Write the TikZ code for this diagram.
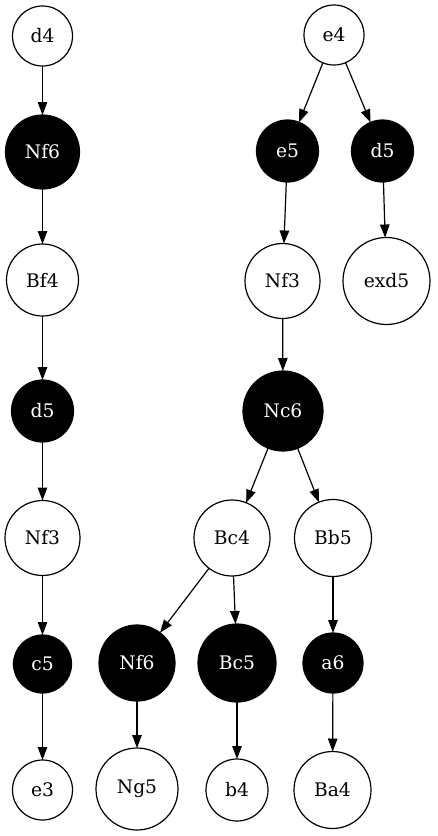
\documentclass[tikz,border=0pt]{standalone}
\usepackage{fontspec}
\setmainfont{DejaVu Serif}
\usetikzlibrary{arrows.meta}
\begin{document}
\begin{tikzpicture}[x=1pt,y=-1pt,
  wn/.style={circle,draw=black,line width=1.2pt,fill=white,inner sep=0pt,outer sep=0pt,font=\fontsize{18.67}{20}\selectfont},
  bn/.style={wn,fill=black,text=white},
  edge/.style={-{Triangle[length=13pt,width=9.5pt]},line width=1.2pt}]
\useasboundingbox (0,0) rectangle (437,836);
% left chain
\node[wn,minimum size=60pt] (d4) at (42.5,36) {d4};
\node[bn,minimum size=74pt] (Nf6L) at (42.5,152) {Nf6};
\node[wn,minimum size=72pt] (Bf4) at (42.5,280) {Bf4};
\node[bn,minimum size=62pt] (d5L) at (42.5,411) {d5};
\node[wn,minimum size=75pt] (Nf3L) at (42.5,538) {Nf3};
\node[bn,minimum size=58pt] (c5) at (42.5,664) {c5};
\node[wn,minimum size=60pt] (e3) at (42.5,790) {e3};
% right tree
\node[wn,minimum size=60pt] (e4) at (334,35) {e4};
\node[bn,minimum size=62pt] (e5) at (287.5,151) {e5};
\node[bn,minimum size=62pt] (d5R) at (382.5,151) {d5};
\node[wn,minimum size=75pt] (Nf3R) at (282.5,281) {Nf3};
\node[wn,minimum size=87pt] (exd5) at (386.5,281) {exd5};
\node[bn,minimum size=80pt] (Nc6) at (283,411) {Nc6};
\node[wn,minimum size=76pt] (Bc4) at (232,538) {Bc4};
\node[wn,minimum size=77pt] (Bb5) at (333,538) {Bb5};
\node[bn,minimum size=76pt] (Nf6R) at (137,663) {Nf6};
\node[bn,minimum size=78pt] (Bc5) at (237,663) {Bc5};
\node[bn,minimum size=60pt] (a6) at (333,663) {a6};
\node[wn,minimum size=82pt] (Ng5) at (137,789) {Ng5};
\node[wn,minimum size=62pt] (b4) at (237,790) {b4};
\node[wn,minimum size=77pt] (Ba4) at (332.5,790) {Ba4};
% edges
\draw[edge] (d4) -- (Nf6L);
\draw[edge] (Nf6L) -- (Bf4);
\draw[edge] (Bf4) -- (d5L);
\draw[edge] (d5L) -- (Nf3L);
\draw[edge] (Nf3L) -- (c5);
\draw[edge] (c5) -- (e3);
\draw[edge] (e4) -- (e5);
\draw[edge] (e4) -- (d5R);
\draw[edge] (e5) -- (Nf3R);
\draw[edge] (d5R) -- (exd5);
\draw[edge] (Nf3R) -- (Nc6);
\draw[edge] (Nc6) -- (Bc4);
\draw[edge] (Nc6) -- (Bb5);
\draw[edge] (Bc4) -- (Nf6R);
\draw[edge] (Bc4) -- (Bc5);
\draw[edge] (Bb5) -- (a6);
\draw[edge] (Nf6R) -- (Ng5);
\draw[edge] (Bc5) -- (b4);
\draw[edge] (a6) -- (Ba4);
\end{tikzpicture}
\end{document}
